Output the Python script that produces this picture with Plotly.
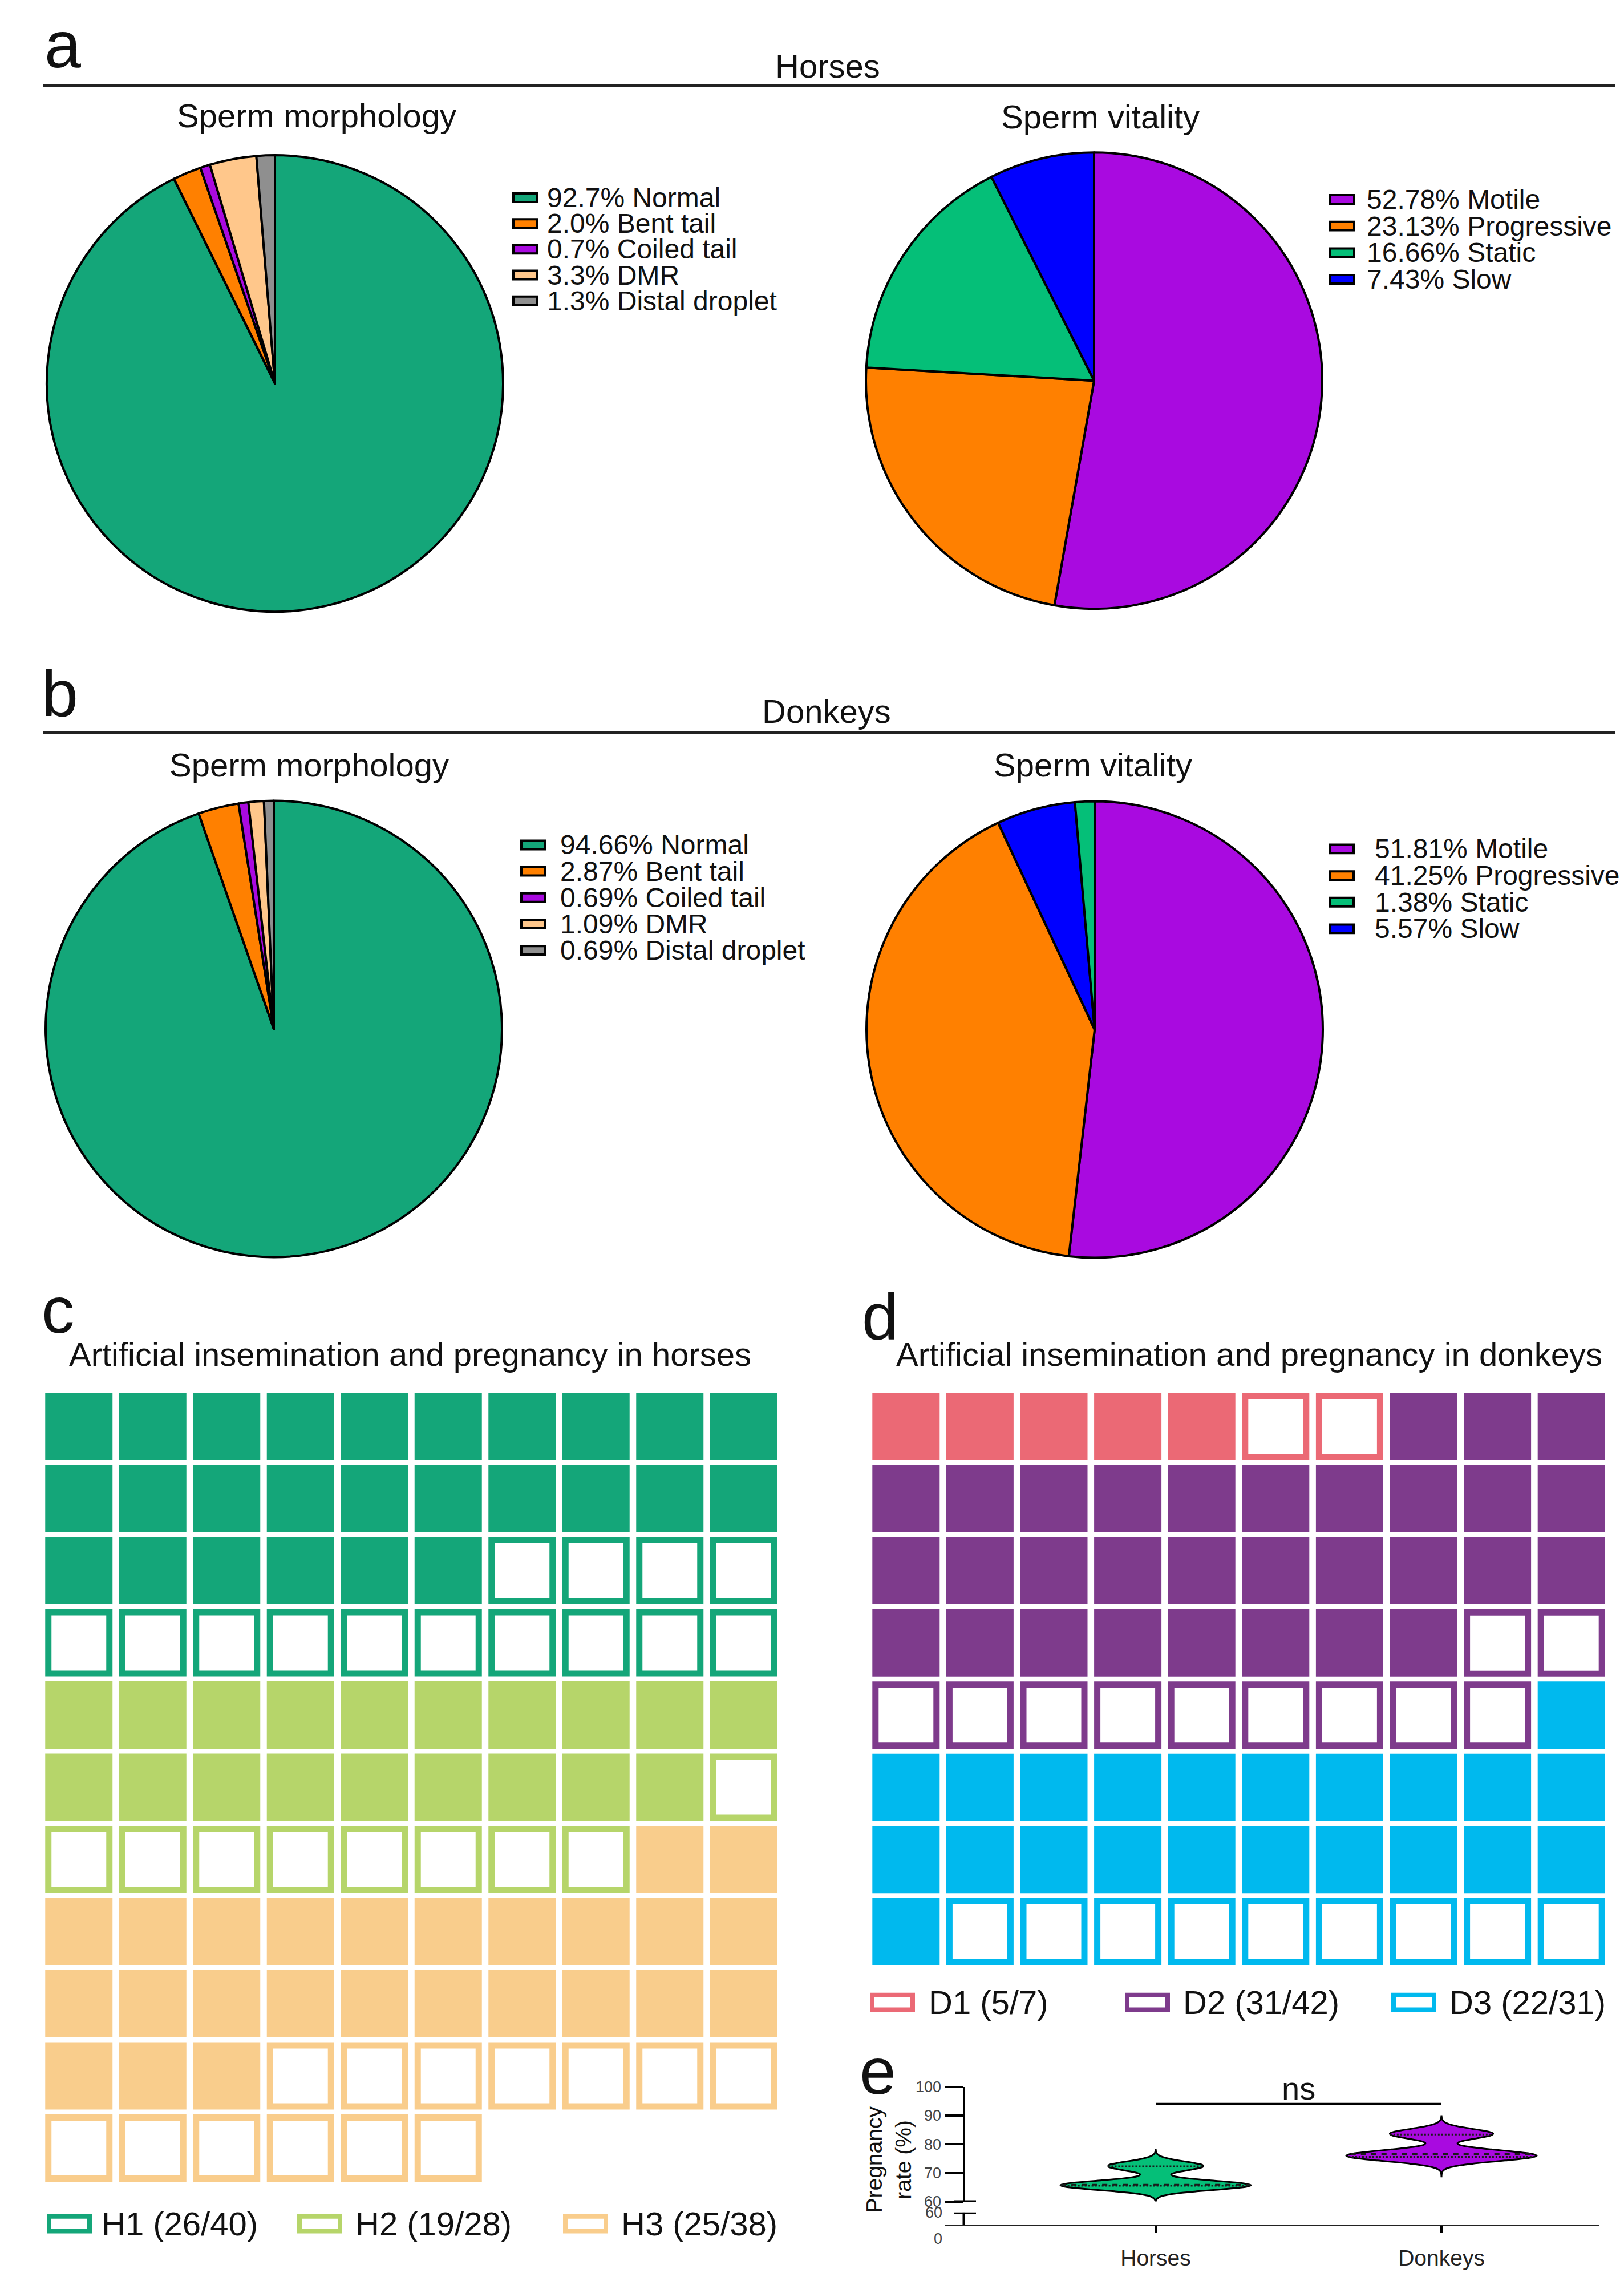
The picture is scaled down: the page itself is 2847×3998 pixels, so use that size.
import numpy as np
import plotly.graph_objects as go

# ---------------------------------------------------------------- data
morph_labels = ["Normal", "Bent tail", "Coiled tail", "DMR", "Distal droplet"]
morph_colors = ["#14A679", "#FF8000", "#A90AE0", "#FFC78B", "#8F8F8F"]
horse_morph = [92.7, 2.0, 0.7, 3.3, 1.3]
donkey_morph = [94.66, 2.87, 0.69, 1.09, 0.69]

vit_labels = ["Motile", "Progressive", "Static", "Slow"]
vit_colors = ["#A90AE0", "#FF8000", "#05BF78", "#0000FF"]
horse_vit = [52.78, 23.13, 16.66, 7.43]
donkey_vit = [51.81, 41.25, 1.38, 5.57]
# order the slices go round the pie (the legend keeps the order above)
morph_order = [0, 1, 2, 3, 4]
horse_vit_order = [0, 1, 2, 3]
donkey_vit_order = [0, 1, 3, 2]

horse_groups = ["H1", "H2", "H3"]
horse_pregnant = [26, 19, 25]
horse_inseminated = [40, 28, 38]
horse_colors = ["#14A679", "#B6D56A", "#F9CD8C"]

donkey_groups = ["D1", "D2", "D3"]
donkey_pregnant = [5, 31, 22]
donkey_inseminated = [7, 42, 31]
donkey_colors = ["#EB6975", "#7E3B8C", "#00B9EE"]

species = ["Horses", "Donkeys"]
horse_rate = [65.4, 65.6, 65.8, 66.0, 72.2, 72.6]
donkey_rate = [75.0, 75.4, 75.8, 76.1, 76.6, 77.4, 83.2, 83.6, 84.0]
rate_span = [[60.4, 78.0], [68.8, 89.8]]
violin_colors = ["#05BF78", "#A90AE0"]
ns_y = 94

# ---------------------------------------------------------------- layout helpers
W, H = 2847, 3998
FONT = "Liberation Sans, Arial, sans-serif"
INK = "#111111"
R = 403          # pie radius, px
CELL = 118       # waffle cell, px
EDGE = 11        # outline of an empty cell, px
VW = 0.667       # violin width, category units
BANDWIDTH = [1.6, 1.7]


def fx(px):
    return px / W


def fy(px):
    return 1 - px / H


def label(x, y, s, size, anchor="center", **kw):
    return dict(x=fx(x), y=fy(y), xref="paper", yref="paper", text=s,
                showarrow=False, xanchor=anchor, yanchor="middle",
                font=dict(family=FONT, size=size, color=INK), **kw)


def kde(t, vals, bw):
    t = np.atleast_1d(t)[:, None]
    return np.exp(-0.5 * ((t - np.asarray(vals)[None, :]) / bw) ** 2).sum(axis=1)


fig = go.Figure()
shapes = []
annotations = []

# ---------------------------------------------------------------- pies
pies = [
    # values, labels, colours, slice order, decimals, centre, key (swatch x, text x, row y, step)
    (horse_morph, morph_labels, morph_colors, morph_order, 1, (474, 654), (890, 949, 326, 45.5)),
    (horse_vit, vit_labels, vit_colors, horse_vit_order, 2, (1910, 649), (2322, 2386, 329, 47)),
    (donkey_morph, morph_labels, morph_colors, morph_order, 2, (472, 1794), (904, 972, 1469, 46.5)),
    (donkey_vit, vit_labels, vit_colors, donkey_vit_order, 2, (1911, 1795), (2321, 2400, 1476, 47)),
]
for vals, labs, cols, order, dec, (cx, cy), (sx, tx, ry, step) in pies:
    names = [f"{v:.{dec}f}% {l}" for v, l in zip(vals, labs)]
    fig.add_trace(go.Pie(
        values=[vals[i] for i in order],
        labels=[names[i] for i in order],
        marker=dict(colors=[cols[i] for i in order], line=dict(color="black", width=4)),
        sort=False, direction="clockwise", rotation=0, textinfo="none",
        hoverinfo="label",
        domain=dict(x=[fx(cx - R), fx(cx + R)], y=[fy(cy + R), fy(cy - R)]),
    ))
    for k, (name, col) in enumerate(zip(names, cols)):
        y = ry + k * step
        shapes.append(dict(type="rect", xref="paper", yref="paper",
                           x0=fx(sx + 2), x1=fx(sx + 44), y0=fy(y + 7.5), y1=fy(y - 7.5),
                           fillcolor=col, line=dict(color="black", width=4)))
        annotations.append(label(tx, y, name, 48, "left"))


# ---------------------------------------------------------------- waffles
def add_waffle(groups, pregnant, inseminated, colors, xa, ya, key_x, key_y):
    start = 0
    for g, p, n, c, (sx, tx) in zip(groups, pregnant, inseminated, colors, key_x):
        idx = np.arange(start, start + n)
        col, row = idx % 10, idx // 10
        full = idx < start + p
        fig.add_trace(go.Scatter(
            x=col[full], y=row[full], mode="markers", xaxis=xa, yaxis=ya,
            name=f"{g} pregnant", hoverinfo="name", cliponaxis=False,
            marker=dict(symbol="square", size=CELL, color=c, line=dict(width=0)),
        ))
        fig.add_trace(go.Scatter(
            x=col[~full], y=row[~full], mode="markers", xaxis=xa, yaxis=ya,
            name=f"{g} not pregnant", hoverinfo="name", cliponaxis=False,
            marker=dict(symbol="square", size=CELL - EDGE, color="white",
                        line=dict(color=c, width=EDGE)),
        ))
        shapes.append(dict(type="rect", xref="paper", yref="paper",
                           x0=fx(sx + 4), x1=fx(sx + 75), y0=fy(key_y + 13), y1=fy(key_y - 13),
                           fillcolor="white", line=dict(color=c, width=8)))
        annotations.append(label(tx, key_y, f"{g} ({p}/{n})", 58, "left"))
        start += n


add_waffle(horse_groups, horse_pregnant, horse_inseminated, horse_colors, "x", "y",
           [(74, 168), (513, 613), (979, 1079)], 3904)
add_waffle(donkey_groups, donkey_pregnant, donkey_inseminated, donkey_colors, "x2", "y2",
           [(1517, 1618), (1964, 2064), (2431, 2531)], 3513)

# ---------------------------------------------------------------- violins
for i, (name, vals, col) in enumerate(zip(species, [horse_rate, donkey_rate], violin_colors)):
    fig.add_trace(go.Violin(
        x0=i, y=vals, name=name, fillcolor=col, opacity=1,
        line=dict(color="black", width=3), width=VW, bandwidth=BANDWIDTH[i],
        spanmode="manual", span=rate_span[i], points=False, scalemode="width",
        hoverinfo="y", xaxis="x3", yaxis="y3",
    ))
    grid = np.linspace(rate_span[i][0], rate_span[i][1], 600)
    peak = kde(grid, vals, BANDWIDTH[i]).max()
    quart = np.percentile(vals, [25, 50, 75], method="weibull")
    for q, dash in zip(quart, ["dot", "dash", "dot"]):
        half = VW / 2 * kde(q, vals, BANDWIDTH[i])[0] / peak
        fig.add_trace(go.Scatter(
            x=[i - half, i + half], y=[q, q], mode="lines", xaxis="x3", yaxis="y3",
            line=dict(color="#1a1a1a", width=3, dash=dash), hoverinfo="skip",
        ))

fig.add_trace(go.Scatter(x=[0, 1], y=[ns_y, ns_y], mode="lines", xaxis="x3", yaxis="y3",
                         line=dict(color="black", width=4), hoverinfo="skip"))
annotations.append(dict(x=0.5, y=99.4, xref="x3", yref="y3", text="ns", showarrow=False,
                        yanchor="middle", font=dict(family=FONT, size=56, color=INK)))
annotations.append(label(1550, 3791, "Pregnancy<br>rate (%)", 39, textangle=-90))

# broken y axis: upper part 60-100, short lower part down to the x axis
y_axis_px = 1681.5
x_axis_px = 3906
for ref in ["y3", "y4"]:
    shapes.append(dict(type="line", xref="paper", yref=ref, x0=fx(1664), x1=fx(1703),
                       y0=60, y1=60, line=dict(color="black", width=5)))
shapes.append(dict(type="line", xref="paper", yref="paper", x0=fx(y_axis_px), x1=fx(y_axis_px),
                   y0=fy(3884), y1=fy(x_axis_px), line=dict(color="black", width=4)))

# ---------------------------------------------------------------- headings
for y in [128, 1270]:
    shapes.append(dict(type="line", xref="paper", yref="paper", x0=fx(68), x1=fx(2824),
                       y0=fy(y), y1=fy(y), line=dict(color="#222222", width=5)))

annotations += [
    label(68, 55, "a", 115, "left"),
    label(1443, 93, "Horses", 58),
    label(547, 181, "Sperm morphology", 58),
    label(1921, 183, "Sperm vitality", 58),
    label(63, 1201, "b", 115, "left"),
    label(1441, 1233, "Donkeys", 58),
    label(534, 1327, "Sperm morphology", 58),
    label(1908, 1327, "Sperm vitality", 58),
    label(63, 2290, "c", 115, "left"),
    label(711, 2368, "Artificial insemination and pregnancy in horses", 58),
    label(1501, 2301, "d", 115, "left"),
    label(2182, 2368, "Artificial insemination and pregnancy in donkeys", 58),
    label(1497, 3634, "e", 115, "left"),
]

# ---------------------------------------------------------------- axes
hidden = dict(visible=False, showgrid=False, zeroline=False)
x_h, x_d = 2018, 2519          # px of the two violins
x_lo, x_hi = 1649, 2796        # px of the x axis line
unit = x_d - x_h
tick_font = dict(family=FONT, size=27, color="#444444")

fig.update_layout(
    width=W, height=H, margin=dict(l=0, r=0, t=0, b=0),
    paper_bgcolor="white", plot_bgcolor="white", showlegend=False,
    font=dict(family=FONT, size=40, color=INK),
    xaxis=dict(domain=[fx(65.5), fx(1360.5)], range=[-0.5, 9.5], **hidden),
    yaxis=dict(domain=[fy(3834), fy(2432)], range=[10.5, -0.5], **hidden),
    xaxis2=dict(domain=[fx(1515.5), fx(2811.5)], range=[-0.5, 9.5], anchor="y2", **hidden),
    yaxis2=dict(domain=[fy(3452), fy(2432)], range=[7.5, -0.5], anchor="x2", **hidden),
    xaxis3=dict(domain=[fx(x_lo), fx(x_hi)],
                range=[(x_lo - x_h) / unit, (x_hi - x_h) / unit],
                anchor="free", position=fy(x_axis_px), tickvals=[0, 1], ticktext=species,
                ticks="outside", ticklen=11, tickwidth=5, tickcolor="black",
                showline=True, linewidth=3, linecolor="#222222",
                showgrid=False, zeroline=False, ticklabelstandoff=12,
                tickfont=dict(family=FONT, size=39, color="#222222")),
    yaxis3=dict(domain=[fy(3865), fy(3662)], range=[60, 100], anchor="free",
                position=fx(y_axis_px), tickvals=[60, 70, 80, 90, 100],
                ticks="outside", ticklen=32, tickwidth=4, tickcolor="black",
                showline=True, linewidth=4, linecolor="black",
                showgrid=False, zeroline=False, tickfont=tick_font),
    yaxis4=dict(domain=[fy(3930), fy(3884)], range=[0, 60], anchor="free",
                position=fx(y_axis_px), tickvals=[0, 60],
                ticks="outside", ticklen=32, tickcolor="rgba(0,0,0,0)",
                showline=False, showgrid=False, zeroline=False, tickfont=tick_font),
    shapes=shapes,
    annotations=annotations,
)

fig.write_html("out.html")
